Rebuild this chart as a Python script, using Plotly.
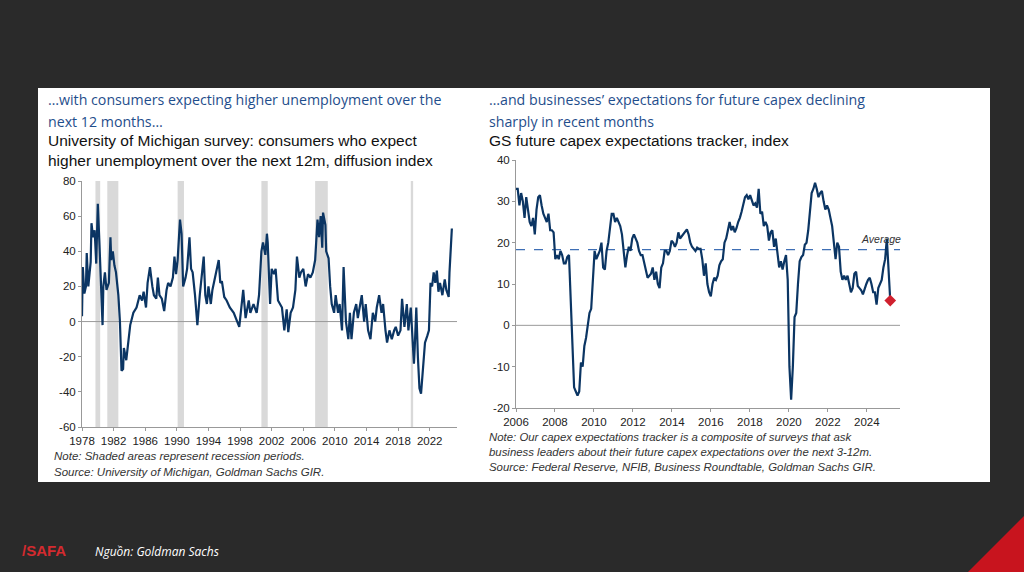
import plotly.graph_objects as go
import numpy as np

# Left chart: University of Michigan unemployment expectations (decimal year, index)
um_years = [1978.0,1978.1,1978.3,1978.5,1978.6,1978.8,1979.1,1979.2,1979.4,1979.6,1979.8,1980.0,1980.2,1980.4,1980.6,1980.7,1980.9,1981.1,1981.4,1981.6,1981.7,1981.9,1982.1,1982.3,1982.6,1982.8,1983.0,1983.2,1983.3,1983.6,1983.9,1984.1,1984.5,1984.9,1985.3,1985.6,1985.8,1986.1,1986.3,1986.6,1986.9,1987.1,1987.4,1987.6,1987.8,1988.1,1988.4,1988.7,1988.9,1989.2,1989.5,1989.7,1989.9,1990.1,1990.4,1990.6,1990.8,1991.1,1991.3,1991.6,1991.8,1992.0,1992.3,1992.6,1992.9,1993.2,1993.4,1993.6,1993.8,1994.0,1994.3,1994.5,1994.8,1995.1,1995.3,1995.5,1995.7,1996.0,1996.3,1996.7,1997.2,1997.9,1998.2,1998.4,1998.7,1999.1,1999.3,1999.7,2000.1,2000.4,2000.7,2000.9,2001.2,2001.4,2001.5,2001.8,2002.0,2002.3,2002.5,2002.8,2003.3,2003.6,2003.9,2004.1,2004.4,2004.7,2005.0,2005.2,2005.5,2005.7,2006.0,2006.3,2006.6,2006.9,2007.2,2007.5,2007.8,2008.0,2008.2,2008.4,2008.5,2008.8,2008.9,2009.2,2009.4,2009.6,2009.9,2010.1,2010.4,2010.6,2010.9,2011.1,2011.4,2011.7,2011.9,2012.1,2012.4,2012.7,2012.9,2013.2,2013.4,2013.7,2013.9,2014.2,2014.5,2014.8,2015.1,2015.3,2015.6,2015.9,2016.1,2016.4,2016.6,2016.9,2017.2,2017.5,2017.7,2018.0,2018.3,2018.5,2018.8,2019.1,2019.3,2019.6,2019.8,2020.0,2020.1,2020.3,2020.5,2020.7,2020.9,2021.2,2021.4,2021.7,2021.9,2022.1,2022.3,2022.5,2022.7,2022.9,2023.1,2023.3,2023.6,2023.9,2024.1,2024.4,2024.5,2024.8]
um_values = [3,31,16,20,39,20,34,56,48,52,33,67,45,22,-2,20,28,18,22,48,35,40,32,28,15,0,-28,-27,-15,-22,-10,-2,5,8,15,12,17,8,22,31,20,15,13,25,15,13,6,18,22,20,25,37,27,35,58,50,20,25,30,48,30,28,15,-2,15,27,37,15,10,20,10,18,25,30,35,22,23,14,12,8,5,-3,10,18,2,12,5,10,5,15,40,45,38,50,45,10,30,27,30,12,8,-5,7,-6,5,8,18,37,25,28,30,20,27,25,28,35,58,48,60,42,62,55,40,36,20,10,5,15,5,10,-5,31,0,-10,5,-10,5,10,2,10,15,0,10,-5,-10,5,0,8,15,5,10,-5,-12,-5,-10,-5,-3,-8,-5,13,-3,10,-5,8,-5,-24,-15,8,-20,-38,-41,-20,-12,-8,-5,22,20,28,22,29,17,22,15,24,18,14,28,53]
recessions = [(1979.7,1980.3),(1981.2,1982.6),(1990.1,1990.9),(2000.7,2001.5),(2007.5,2009.1),(2019.6,2019.9)]
um_yticks = [80, 60, 40, 20, 0, -20, -40, -60]

# Right chart: GS future capex expectations tracker (roughly monthly from 2006)
capex_values = [33,33,29,32,30,26,31,28,25,24,26,22,28,31,31.5,29,27,26,25,27,23,23,22.5,16,17,16,18,17,15,15,16.5,17,5,-5,-15,-16,-17,-16,-9,-10,-5,-3,0,3,4,10,18,16,17,18,20,14,13.5,18,20,23,27,27,25,26,25,24,22,18,14,17,19,18,21,22,21,20,18,17,17,15,13,11.5,12,12.5,14,11,13,10,9,14,15,18,18,17,18,20.5,20,19,20,22.5,21,21.5,22,22.5,23.2,22,20,19,18.5,18,18.8,18.5,18.5,16,12,15,10,8,7,10,11.5,11,12,14.5,15.5,16,20,21,23,25,23,24,22.5,23.5,25,26,27.5,29,31,31.5,30.5,31.5,30,29,29.5,28.5,33,27,27.5,24,25,24,20.5,22.5,23,19,21,17,14,15.5,13.5,15.5,17,11,-10,-18,-10,2,3,10,15.5,16.5,17,19.5,20,23,28,32,33,34.5,33,31,32,32.5,30,28,29,28,26,24,20,16,20,19,13,11,12,11,12,10,8,9,12.5,13,9.5,9,8.5,7.5,9,10,11,11.5,10,8,8,5,9,10,11,14,16,21,12,6]
capex_start, capex_end = 2006.0, 2025.2
capex_average = 18.3
latest_value = 6
capex_yticks = [40, 30, 20, 10, 0, -10, -20]

navy = "#0b3563"
W, H = 1024, 572
def px(x): return x / W
def py(y): return 1 - y / H

fig = go.Figure()
fig.add_trace(go.Scatter(x=um_years, y=um_values, mode="lines", line=dict(color=navy, width=2.2),
                         xaxis="x", yaxis="y", showlegend=False))
capex_x = list(np.linspace(capex_start, capex_end, len(capex_values)))
fig.add_trace(go.Scatter(x=[capex_start, 2025.7], y=[capex_average]*2, mode="lines",
                         line=dict(color="#3f6fb5", width=1.3, dash="dash"),
                         xaxis="x2", yaxis="y2", showlegend=False))
fig.add_trace(go.Scatter(x=capex_x, y=capex_values, mode="lines", line=dict(color=navy, width=2.2),
                         xaxis="x2", yaxis="y2", showlegend=False))
fig.add_trace(go.Scatter(x=[capex_x[-1]], y=[latest_value], mode="markers",
                         marker=dict(symbol="diamond", color="#d0202e", size=9),
                         xaxis="x2", yaxis="y2", showlegend=False))

shapes = [dict(type="rect", xref="paper", yref="paper", x0=px(38), x1=px(990), y0=py(482), y1=py(88),
               fillcolor="white", line=dict(width=0), layer="below"),
          dict(type="path", xref="paper", yref="paper",
               path=f"M {px(968)} 0 L 1 {py(516)} L 1 0 Z", fillcolor="#c8141e", line=dict(width=0))]
for a, b in recessions:
    shapes.append(dict(type="rect", xref="x", yref="y", x0=a, x1=b, y0=-60, y1=80,
                       fillcolor="#d9d9d9", line=dict(width=0), layer="below"))
shapes.append(dict(type="line", xref="x", yref="y", x0=1978, x1=2025.45, y0=0, y1=0, line=dict(color="#999", width=1), layer="below"))
shapes.append(dict(type="line", xref="x2", yref="y2", x0=2006, x1=2025.7, y0=0, y1=0, line=dict(color="#999", width=1), layer="below"))

font = "Liberation Sans, Arial, sans-serif"
ax = dict(showgrid=False, zeroline=False, showline=True, linecolor="#999", linewidth=1, automargin=False,
          ticks="outside", ticklen=3, tickcolor="#999", tickfont=dict(size=11.5, color="#222", family=font))
fig.update_layout(
    width=W, height=H, margin=dict(l=0, r=0, t=0, b=0, pad=0, autoexpand=False),
    paper_bgcolor="#2a2a2a", plot_bgcolor="rgba(0,0,0,0)", shapes=shapes, showlegend=False,
    xaxis=dict(ax, domain=[px(82), px(457)], range=[1978, 2025.45], tickvals=list(range(1978, 2023, 4)), anchor="y"),
    yaxis=dict(ax, domain=[py(427), py(181)], range=[-60, 80], tickvals=um_yticks,
               ticktext=[str(v) for v in um_yticks], anchor="x"),
    xaxis2=dict(ax, domain=[px(516), px(900)], range=[2006, 2025.7], tickvals=list(range(2006, 2025, 2)), anchor="y2"),
    yaxis2=dict(ax, domain=[py(408), py(160)], range=[-20, 40], tickvals=capex_yticks,
                ticktext=[str(v) for v in capex_yticks], anchor="x2"),
)

def txt(x, y, s, size=13, color="#111", italic=False, fam=font):
    fig.add_annotation(xref="paper", yref="paper", x=px(x), y=py(y), text=s, showarrow=False,
                       xanchor="left", yanchor="middle",
                       font=dict(size=size, color=color, family=fam, style="italic" if italic else "normal"))

blue = "#1f4e8c"
txt(46, 100, "…with consumers expecting higher unemployment over the", 14.2, blue, fam="Open Sans")
txt(46, 121, "next 12 months…", 14.2, blue, fam="Open Sans")
txt(46, 141, "University of Michigan survey: consumers who expect", 15.5)
txt(46, 160, "higher unemployment over the next 12m, diffusion index", 15.5)
txt(487, 100, "…and businesses’ expectations for future capex declining", 14.2, blue, fam="Open Sans")
txt(487, 121, "sharply in recent months", 14.2, blue, fam="Open Sans")
txt(487, 141, "GS future capex expectations tracker, index", 15.5)
txt(52, 456, "Note: Shaded areas represent recession periods.", 11.5, "#333", True)
txt(52, 472, "Source: University of Michigan, Goldman Sachs GIR.", 11.5, "#333", True)
txt(487, 437, "Note: Our capex expectations tracker is a composite of surveys that ask", 11.4, "#333", True)
txt(487, 452, "business leaders about their future capex expectations over the next 3-12m.", 11.4, "#333", True)
txt(487, 467, "Source: Federal Reserve, NFIB, Business Roundtable, Goldman Sachs GIR.", 11.4, "#333", True)
txt(93, 551, "Nguồn: Goldman Sachs", 12, "white", True, fam="Open Sans")
txt(20, 550, "<b>/SAFA</b>", 15, "#d42a2f")
fig.add_annotation(xref="x2", yref="y2", x=2023.6, y=20.8, text="Average", showarrow=False, xanchor="left",
                   font=dict(size=10.5, color="#333", family=font, style="italic"))

fig.write_html("out.html", config={"displayModeBar": False},
               post_script="document.body.style.margin='0';document.body.style.background='#2a2a2a';document.body.style.overflow='hidden';")
